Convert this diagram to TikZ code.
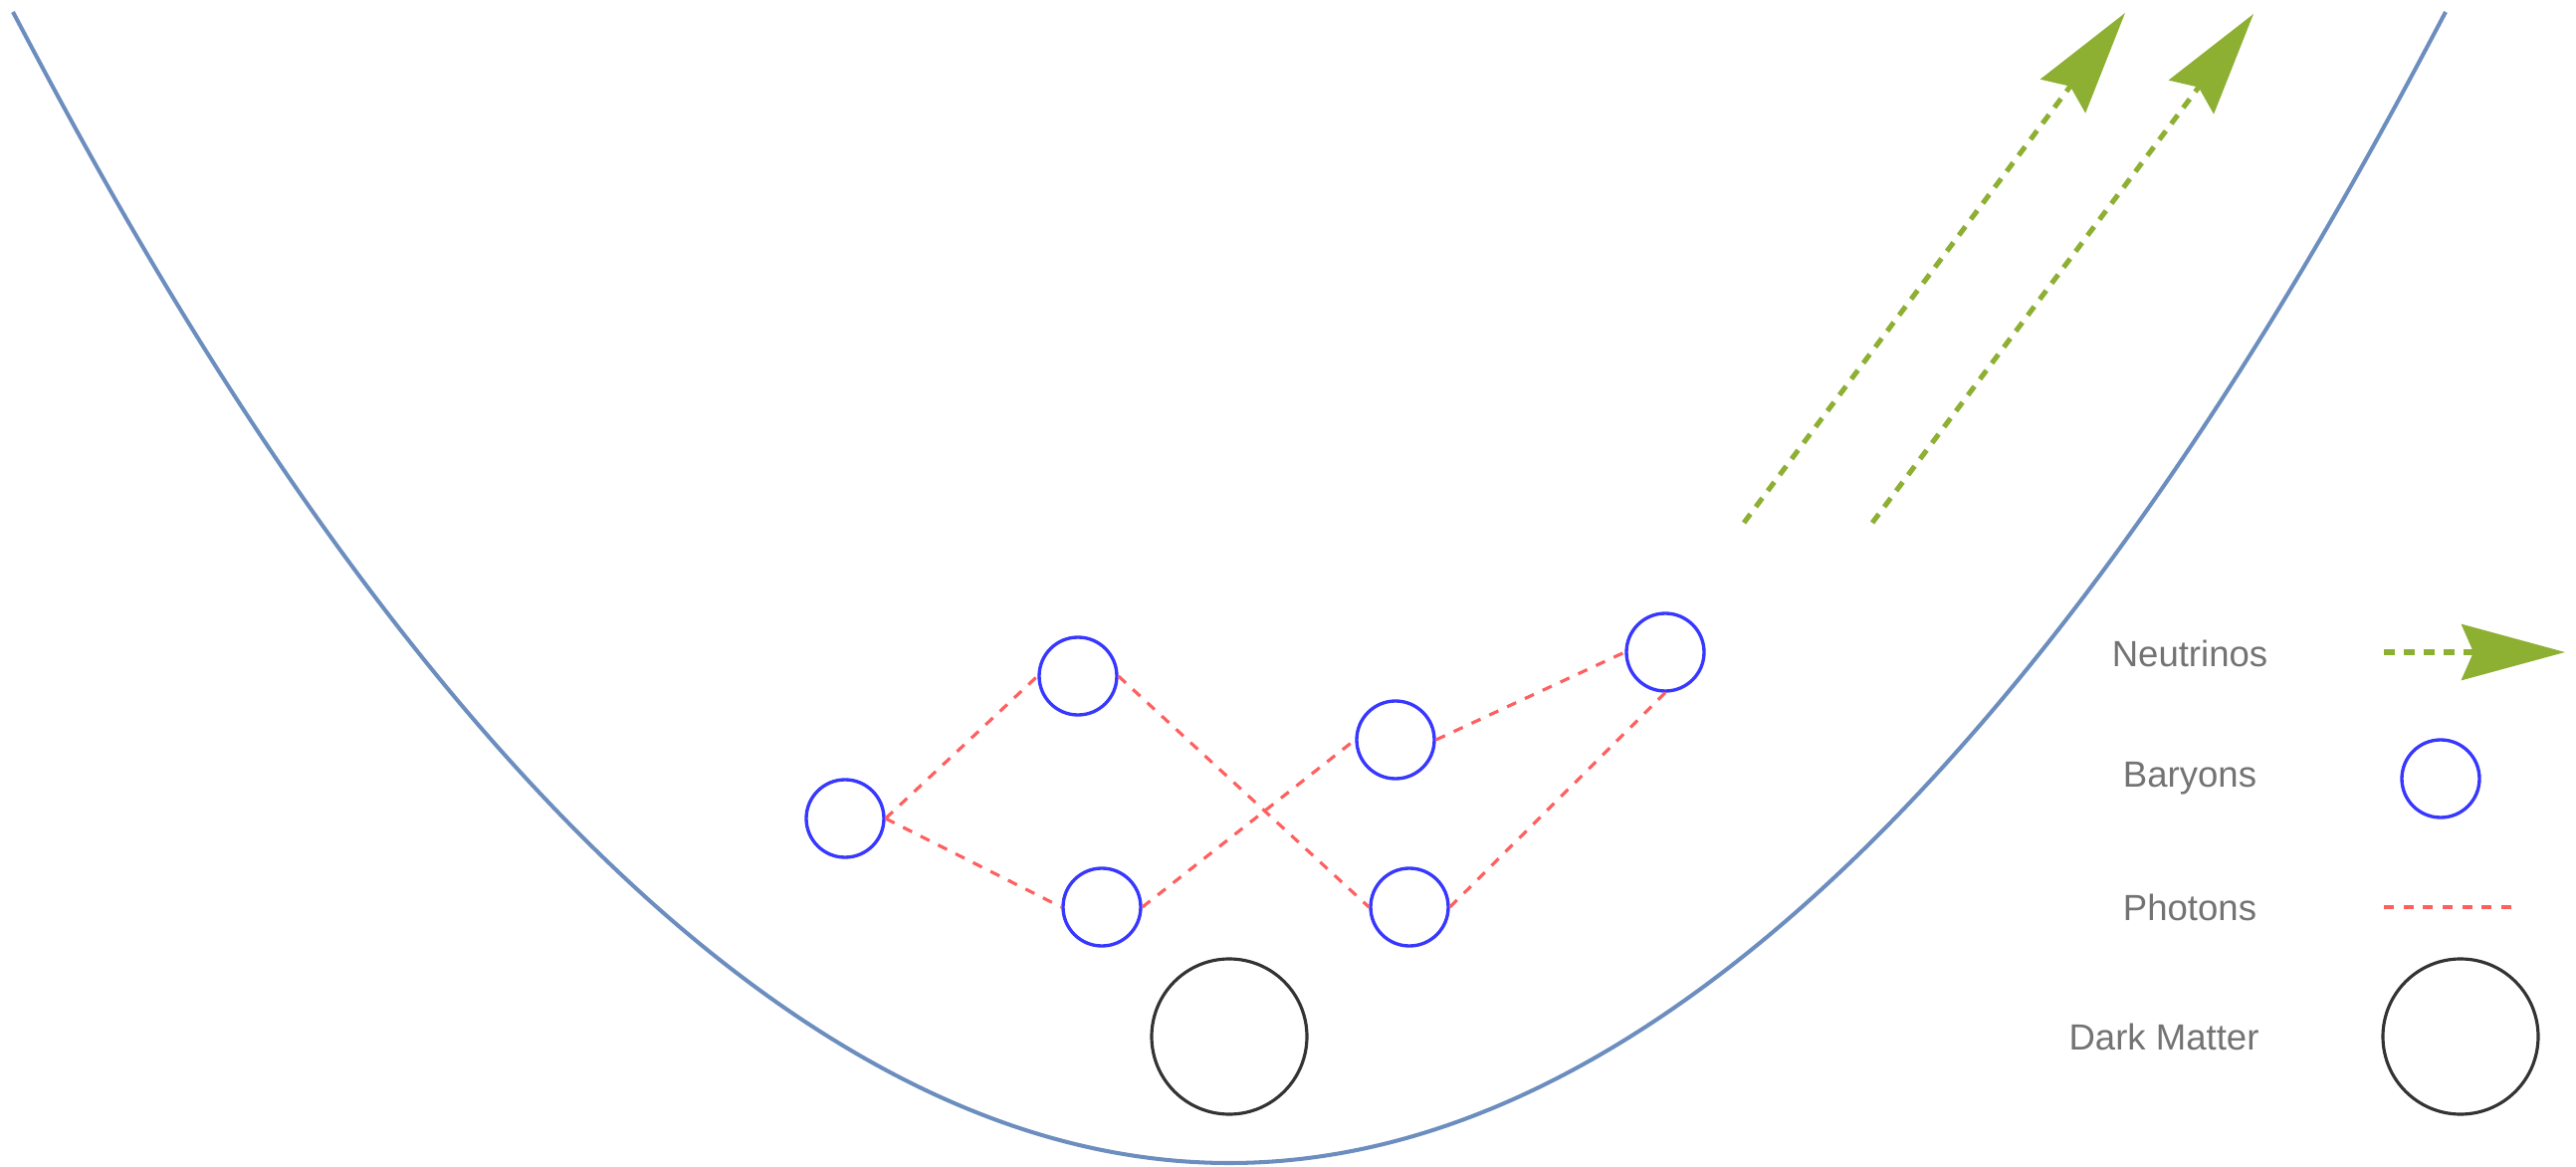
\documentclass[tikz,border=0pt]{standalone}
\usepackage{fontspec}
\setmainfont{Liberation Sans}
\usepackage{tikz}
\usetikzlibrary{arrows.meta,positioning}
\definecolor{wellblue}{RGB}{108,142,191}
\definecolor{nugreen}{RGB}{141,176,51}
\definecolor{baryonblue}{RGB}{55,55,255}
\definecolor{photonred}{RGB}{255,95,95}
\definecolor{labelgray}{RGB}{115,115,115}

\begin{document}
\begin{tikzpicture}[font=\fontsize{10.4}{12}\selectfont,
    baryon/.style={circle, draw=baryonblue, line width=0.95pt, minimum size=0.78cm, inner sep=0pt},
    darkmatter/.style={circle, draw=black!80, line width=0.9pt, minimum size=1.56cm, inner sep=0pt},
    photon/.style={draw=photonred, line width=0.9pt, dash pattern=on 2.85pt off 2.75pt},
    neutrino/.style={draw=nugreen, line width=1.45pt, dash pattern=on 3.1pt off 2.6pt,
      -{Stealth[length=10.4mm, width=5.6mm, inset=1.2mm, fill=nugreen]}},
    legendlabel/.style={text=labelgray, inner sep=0pt}]
    \useasboundingbox (0,0) rectangle (25.88,11.71);
    % potential well
    \draw[wellblue, line width=1.15pt] (0.13,11.59) parabola bend (12.35,0.03) (24.57,11.59);
    % baryons and dark matter
    \node[baryon] (b1) at (8.49,3.49) {};
    \node[baryon] (b2) at (10.83,4.92) {};
    \node[baryon] (b3) at (11.07,2.60) {};
    \node[baryon] (b4) at (14.02,4.28) {};
    \node[baryon] (b5) at (14.16,2.60) {};
    \node[baryon] (b6) at (16.73,5.16) {};
    \node[darkmatter] (dm) at (12.35,1.30) {};
    % photons
    \draw[photon] (b1.east) -- (b2.west);
    \draw[photon] (b1.east) -- (b3.west);
    \draw[photon] (b2.east) -- (b5.west);
    \draw[photon] (b3.east) -- (b4.west);
    \draw[photon] (b4.east) -- (b6.west);
    \draw[photon] (b5.east) -- (b6.south);
    % neutrinos escaping
    \coordinate (nua) at (17.52,6.46);
    \coordinate (nuatip) at (21.35,11.58);
    \coordinate (nub) at (18.81,6.46);
    \coordinate (nubtip) at (22.64,11.57);
    \draw[neutrino] (nua) -- (nuatip);
    \draw[neutrino] (nub) -- (nubtip);
    % legend
    \node[legendlabel] (lgnu) at (22.00,5.15) {Neutrinos};
    \node[legendlabel] (lgba) at (22.00,3.89) {Baryons};
    \node[legendlabel] (lgph) at (22.00,2.60) {Photons};
    \node[legendlabel] (lgdm) at (21.74,1.30) {Dark Matter};
    \coordinate (lgnus) at (23.95,5.16);
    \coordinate (lgnue) at (25.77,5.16);
    \draw[neutrino] (lgnus) -- (lgnue);
    \node[baryon] (lgbacirc) at (24.52,3.89) {};
    \coordinate (lgphs) at (23.95,2.60);
    \coordinate (lgphe) at (25.24,2.60);
    \draw[photon] (lgphs) -- (lgphe);
    \node[darkmatter] (lgdmcirc) at (24.72,1.30) {};
\end{tikzpicture}
\end{document}
